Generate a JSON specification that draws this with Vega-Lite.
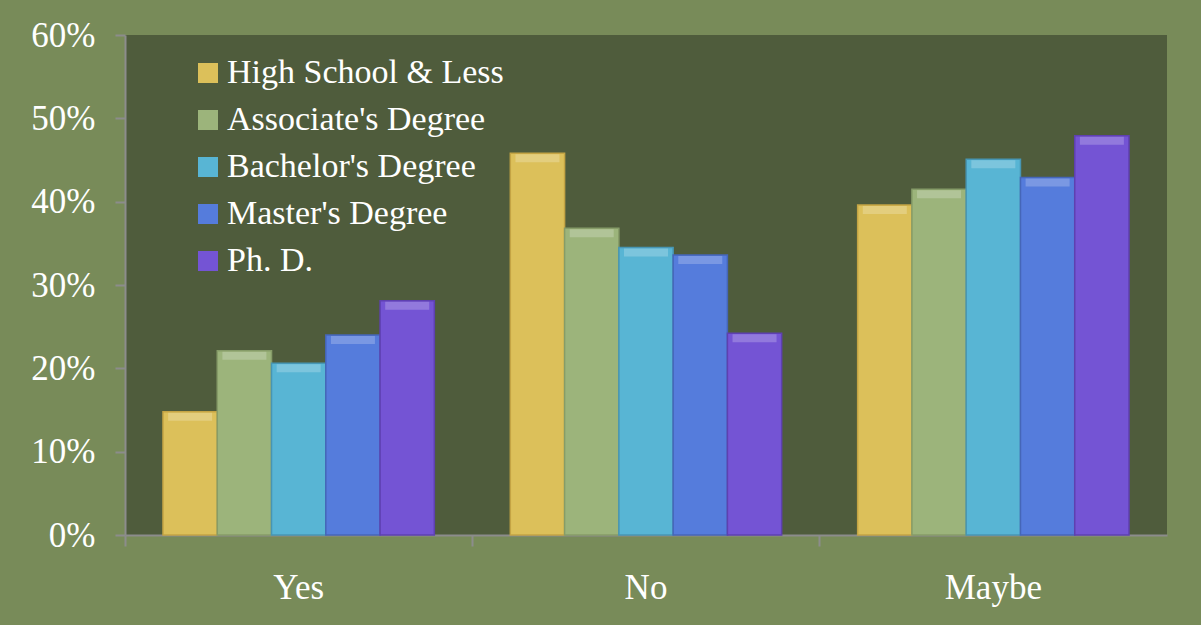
{
  "$schema": "https://vega.github.io/schema/vega-lite/v6.json",
  "width": 1042,
  "height": 500,
  "autosize": {"type": "none"},
  "padding": {"left": 125, "top": 35, "right": 34, "bottom": 90},
  "background": "#788b59",
  "data": {
    "values": [
      {"answer": "Yes", "education": "High School & Less", "share": 0.148},
      {"answer": "Yes", "education": "Associate's Degree", "share": 0.221},
      {"answer": "Yes", "education": "Bachelor's Degree", "share": 0.206},
      {"answer": "Yes", "education": "Master's Degree", "share": 0.240},
      {"answer": "Yes", "education": "Ph. D.", "share": 0.281},
      {"answer": "No", "education": "High School & Less", "share": 0.458},
      {"answer": "No", "education": "Associate's Degree", "share": 0.368},
      {"answer": "No", "education": "Bachelor's Degree", "share": 0.345},
      {"answer": "No", "education": "Master's Degree", "share": 0.336},
      {"answer": "No", "education": "Ph. D.", "share": 0.242},
      {"answer": "Maybe", "education": "High School & Less", "share": 0.396},
      {"answer": "Maybe", "education": "Associate's Degree", "share": 0.415},
      {"answer": "Maybe", "education": "Bachelor's Degree", "share": 0.451},
      {"answer": "Maybe", "education": "Master's Degree", "share": 0.429},
      {"answer": "Maybe", "education": "Ph. D.", "share": 0.479}
    ]
  },
  "config": {
    "view": {"fill": "#4f5c3c", "stroke": null},
    "font": "Liberation Serif",
    "axis": {
      "labelFont": "Liberation Serif",
      "labelColor": "#ffffff",
      "domainColor": "#8c8c8c",
      "domainWidth": 2,
      "tickColor": "#8c8c8c",
      "tickWidth": 2,
      "tickSize": 10,
      "grid": false,
      "title": null
    }
  },
  "encoding": {
    "x": {
      "field": "answer",
      "type": "nominal",
      "sort": ["Yes", "No", "Maybe"],
      "scale": {"paddingInner": 0, "paddingOuter": 0},
      "axis": {
        "labelAngle": 0,
        "labelFontSize": 35,
        "labelPadding": 24,
        "bandPosition": 0,
        "tickSize": 11
      }
    },
    "xOffset": {
      "field": "education",
      "type": "nominal",
      "sort": ["High School & Less", "Associate's Degree", "Bachelor's Degree", "Master's Degree", "Ph. D."],
      "scale": {"paddingInner": 0, "paddingOuter": 0.7}
    },
    "y": {
      "field": "share",
      "type": "quantitative",
      "scale": {"domain": [0, 0.6], "nice": false},
      "axis": {
        "format": ".0%",
        "values": [0, 0.1, 0.2, 0.3, 0.4, 0.5, 0.6],
        "labelFontSize": 35,
        "labelPadding": 20
      }
    }
  },
  "layer": [
    {
      "mark": {"type": "bar", "strokeWidth": 1.5},
      "encoding": {
        "color": {
          "field": "education",
          "type": "nominal",
          "sort": ["High School & Less", "Associate's Degree", "Bachelor's Degree", "Master's Degree", "Ph. D."],
          "scale": {"range": ["#dcc05a", "#9cb47b", "#58b5d4", "#557cdc", "#7454d4"]},
          "legend": {
            "title": null,
            "orient": "none",
            "legendX": 66,
            "legendY": 21,
            "symbolType": "square",
            "symbolSize": 400,
            "symbolStrokeWidth": 0,
            "symbolOpacity": 1,
            "labelFont": "Liberation Serif",
            "labelFontSize": 34,
            "labelColor": "#ffffff",
            "labelOffset": 2,
            "labelLimit": 400,
            "rowPadding": 13
          }
        },
        "stroke": {
          "field": "education",
          "type": "nominal",
          "sort": ["High School & Less", "Associate's Degree", "Bachelor's Degree", "Master's Degree", "Ph. D."],
          "scale": {"range": ["#c4a444", "#869c68", "#4796b4", "#4566b8", "#5e40b0"]},
          "legend": null
        }
      }
    },
    {
      "mark": {"type": "tick", "color": "#ffffff", "opacity": 0.22, "thickness": 8, "size": 44, "yOffset": 5}
    }
  ]
}
